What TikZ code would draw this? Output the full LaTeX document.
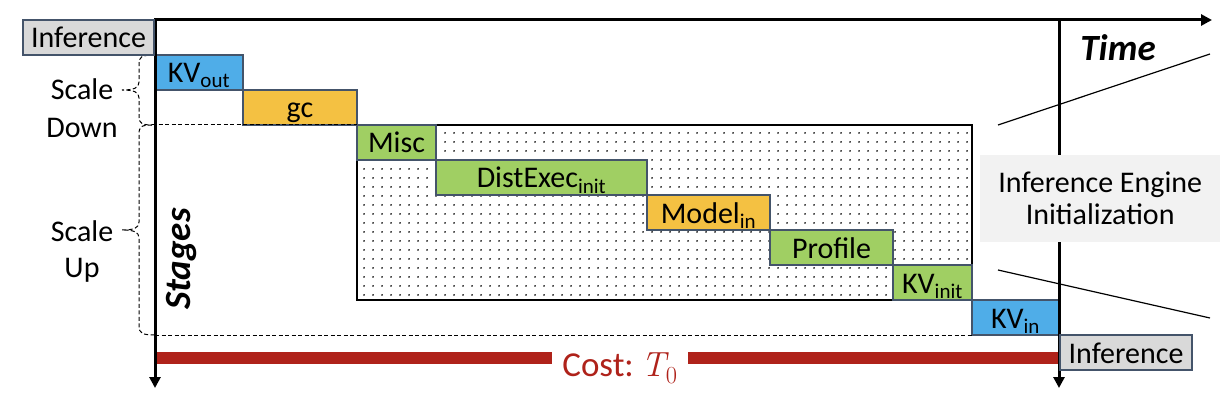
\documentclass[tikz,border=0pt]{standalone}
\usepackage{fontspec}
\setmainfont{Carlito}
\newfontfamily\lmfont{Latin Modern Roman}
\usepackage{xcolor}
\usetikzlibrary{positioning, arrows.meta, backgrounds, patterns}
\definecolor{kvBlue}{RGB}{79, 173, 232}
\definecolor{gcOrange}{RGB}{244, 193, 66}
\definecolor{initGreen}{RGB}{160, 207, 99}
\definecolor{infGray}{RGB}{217, 217, 217}
\definecolor{engGray}{RGB}{242, 242, 242}
\definecolor{edgeSlate}{RGB}{68, 84, 106}
\definecolor{costRed}{RGB}{175, 34, 26}
\pgfdeclarepatternformonly{sparsedots}{\pgfpointorigin}{\pgfqpoint{9pt}{9pt}}{\pgfqpoint{9pt}{9pt}}%
  {\pgfpathcircle{\pgfqpoint{4.5pt}{4.5pt}}{1pt}\pgfusepath{fill}}
\tikzset{
  stagebox/.style={draw=edgeSlate, line width=1.2pt, minimum height=35pt, inner sep=0pt, outer sep=0pt, text height=28pt, text depth=7pt},
  infbox/.style={stagebox, fill=infGray, minimum width=131pt},
  axis/.style={line width=3pt, -{Triangle[length=11pt, width=11pt]}},
  dashln/.style={line width=1pt, dash pattern=on 4pt off 2.5pt},
  thinline/.style={line width=1.2pt},
}

\begin{document}
\begin{tikzpicture}[x=1pt, y=-1pt, font=\fontsize{30}{36}\selectfont]
        \useasboundingbox (0,0) rectangle (1220,398);
        % stages, each one starting where the last one ends
        \node[stagebox, fill=kvBlue, minimum width=88pt, anchor=north west] (kvout) at (155,55) {KV\textsubscript{out}};
        \node[stagebox, fill=gcOrange, minimum width=114pt, below right=0pt and 0pt of kvout] (gc) {gc};
        \node[stagebox, fill=initGreen, minimum width=79pt, below right=0pt and 0pt of gc] (misc) {Misc};
        \node[stagebox, fill=initGreen, minimum width=211pt, below right=0pt and 0pt of misc] (dist) {DistExec\textsubscript{init}};
        \node[stagebox, fill=gcOrange, minimum width=123pt, below right=0pt and 0pt of dist] (model) {Model\textsubscript{in}};
        \node[stagebox, fill=initGreen, minimum width=123pt, below right=0pt and 0pt of model] (prof) {Profile};
        \node[stagebox, fill=initGreen, minimum width=79pt, below right=0pt and 0pt of prof] (kvinit) {KV\textsubscript{init}};
        \node[stagebox, fill=kvBlue, minimum width=87pt, below right=0pt and 0pt of kvinit] (kvin) {KV\textsubscript{in}};
        % engine init region
        \begin{scope}[on background layer]
            \draw[thinline, pattern=sparsedots, pattern color=black] (misc.north west) rectangle (kvinit.south east);
        \end{scope}
        % scale down / scale up
        \coordinate (sd) at (152,125);
        \coordinate (su) at (155,335);
        \draw[dashln] (sd) -- (misc.north west);
        \draw[dashln] (su) -- (kvin.south west);
        \draw[dashln] (kvout.north west) .. controls (141,55) and (139,57) .. (139,64) -- (139,82)
            .. controls (139,88) and (134,90) .. (122,90) .. controls (134,90) and (139,92) .. (139,98)
            -- (139,117) .. controls (139,123) and (142,125) .. (sd);
        \draw[dashln] (sd) .. controls (141,125) and (139,127) .. (139,134) -- (139,222)
            .. controls (139,228) and (134,230) .. (122,230) .. controls (134,230) and (139,232) .. (139,238)
            -- (139,326) .. controls (139,333) and (142,335) .. (su);
        \node[anchor=base] (sdscale) at (82,100) {Scale};
        \node[anchor=base] (sddown) at (82,138) {Down};
        \node[anchor=base] (suscale) at (82,241) {Scale};
        \node[anchor=base] (suup) at (82,277) {Up};
        % cost
        \draw[costRed, line width=12pt] (155,358) -- (1059,358);
        \node[anchor=base, fill=white, text=costRed, inner xsep=10pt, inner ysep=1pt, font=\fontsize{35}{40}\selectfont] (cost) at (620,376) {Cost:\kern-3pt{} {\lmfont\itshape T}\textsubscript{\lmfont 0}};
        % axes
        \coordinate (origin) at (155,20);
        \coordinate (endsplit) at (1059,20);
        \draw[axis] (155,18.5) -- (155,388);
        \draw[axis] (origin) -- (1212,20);
        \draw[axis] (endsplit) -- (1059,388);
        \node[infbox, anchor=north east] (inftop) at (154,20) {Inference};
        \node[infbox, anchor=north west, minimum width=132pt] (infbot) at (1060,335) {Inference};
        \node[fill=engGray, minimum width=240pt, minimum height=87pt, anchor=north west, align=center, font=\fontsize{30}{32}\selectfont] (engine) at (980,155) {Inference Engine\\Initialization};
        \coordinate (zta) at (998,125);
        \coordinate (ztb) at (1210,54);
        \coordinate (zba) at (998,270);
        \coordinate (zbb) at (1210,318);
        \draw[thinline] (zta) -- (ztb);
        \draw[thinline] (zba) -- (zbb);
        \node[font=\fontsize{37}{42}\selectfont\bfseries\itshape] (time) at (1118,48) {Time};
        \node[rotate=90, font=\fontsize{37}{42}\selectfont\bfseries\itshape] (stages) at (181,259) {Stages};
    \end{tikzpicture}
\end{document}
